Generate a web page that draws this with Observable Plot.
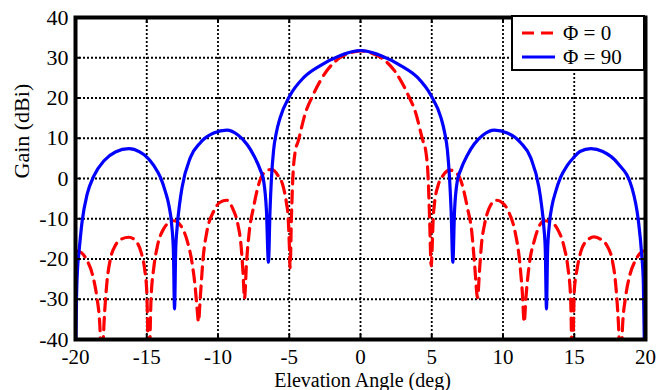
<!DOCTYPE html>
<html><head><meta charset="utf-8">
<script src="https://cdn.jsdelivr.net/npm/d3@7"></script>
<script src="https://cdn.jsdelivr.net/npm/@observablehq/plot@0.6"></script>
<style>
html,body{margin:0;padding:0;background:#fff;}
#wrap{position:relative;width:659px;height:390px;overflow:hidden;}
#legend{position:absolute;left:511px;top:15px;}
</style></head><body><div id="wrap"></div>
<script>
const xTicks = [-20, -15, -10, -5, 0, 5, 10, 15, 20];
const yTicks = [-40, -30, -20, -10, 0, 10, 20, 30, 40];
const seriesNames = ["\u03A6 = 0", "\u03A6 = 90"];
const seriesColors = ["#ff0000", "#0000ff"];

// Phi = 0 (red dashed)
const phi0Angle = [-20.0,-19.6,-19.2,-18.8,-18.5,-18.3,-18.15,-18.0,-17.8,-17.55,-17.2,-16.75,-16.25,-15.8,-15.4,-15.15,-15.0,-14.85,-14.7,-14.5,-14.27,-13.8,-13.45,-13.1,-12.6,-12.16,-11.81,-11.6,-11.45,-11.37,-11.25,-11.05,-10.78,-10.31,-9.85,-9.4,-8.95,-8.6,-8.4,-8.25,-8.14,-8.0,-7.8,-7.51,-7.04,-6.6,-6.22,-5.8,-5.44,-5.2,-5.07,-4.98,-4.94,-4.85,-4.75,-4.59,-4.36,-3.89,-3.31,-2.38,-1.45,-0.4,0,
  0.4,1.45,2.38,3.31,3.89,4.36,4.59,4.75,4.85,4.96,5.02,5.1,5.2,5.44,5.8,6.24,6.6,7.04,7.51,7.8,8.0,8.22,8.35,8.5,8.7,9.0,9.51,9.95,10.4,10.85,11.15,11.35,11.49,11.6,11.85,12.2,12.89,13.45,13.8,14.3,14.55,14.75,14.87,15.0,15.2,15.45,15.9,16.4,16.85,17.3,17.65,17.9,18.1,18.25,18.4,18.6,18.9,19.3,19.65,20.0];
const phi0Gain = [-17.9,-18.4,-20.3,-24.0,-29.5,-36,-48,-36,-26,-20.0,-16.6,-15.0,-14.6,-15.4,-18.3,-22.5,-28,-48,-30,-22,-17.1,-12.4,-11.0,-10.5,-11.8,-15.5,-21.2,-27,-33,-35.6,-30,-20,-13.2,-8.2,-5.9,-5.4,-7.6,-11.5,-16,-23,-29.8,-21,-13,-7.2,-0.3,1.9,2.3,0.8,-1.8,-6,-10,-18,-22.2,-10,0,6.5,9.4,16.0,20.9,26.7,30.0,31.5,31.7,
  31.5,30.0,26.8,21.0,16.1,9.6,6.6,0,-10,-21.7,-18,-10,-6,-1.8,0.8,2.1,1.7,-0.5,-7.4,-13,-21,-29.6,-23,-16,-11.5,-7.6,-5.4,-6.0,-8.3,-13.3,-20,-28,-35.7,-30,-21.2,-15.4,-10.5,-11.0,-12.4,-17.2,-22,-30,-48,-28,-22.5,-18.3,-15.4,-14.5,-15.1,-16.7,-20,-26,-36,-48,-36,-29.5,-24.0,-20.3,-18.5,-17.9];

// Phi = 90 (blue solid)
const phi90Angle = [-20.0,-19.93,-19.85,-19.77,-19.53,-19.18,-18.7,-18.0,-17.2,-16.25,-15.5,-14.96,-14.5,-14.03,-13.7,-13.45,-13.25,-13.13,-13.05,-12.97,-12.87,-12.7,-12.52,-11.94,-11.24,-10.3,-9.37,-8.6,-7.97,-7.5,-7.04,-6.8,-6.6,-6.46,-6.35,-6.25,-6.1,-5.9,-5.64,-4.97,-4.01,-2.85,-1.45,-0.28,0,
  0.3,1.45,2.85,4.0,4.97,5.64,5.9,6.1,6.25,6.36,6.48,6.6,6.8,7.04,7.5,7.97,8.6,9.39,10.3,11.24,11.94,12.52,12.7,12.87,12.97,13.05,13.13,13.25,13.45,13.7,14.03,14.5,14.96,15.4,16.17,17.0,18.1,19.04,19.5,19.73,19.85,19.95];
const phi90Gain = [-48,-30,-22,-18.8,-10.5,-3.9,0.7,4.4,6.6,7.4,6.6,5.2,3.2,0.2,-3.2,-6.6,-11.5,-18,-32.4,-18,-12.2,-6.5,-2.2,5.2,8.9,11.3,12.0,10.8,8.5,5.8,2.2,-0.5,-8,-20.8,-8,0,7,11.5,15.1,20.5,25.0,28.0,30.5,31.7,31.8,
  31.7,30.5,28.0,25.1,20.5,15.2,11.5,7,0,-8,-20.8,-8,-0.5,2.2,5.8,8.5,10.8,12.0,11.3,8.9,5.2,-2.2,-6.5,-12.2,-18,-32.4,-18,-11.5,-6.6,-3.2,0.2,3.2,5.2,6.7,7.4,6.7,3.6,-2.2,-10.5,-18.8,-26,-48];

const phi0 = phi0Angle.map((a, i) => ({angle: a, gain: phi0Gain[i]}));
const phi90 = phi90Angle.map((a, i) => ({angle: a, gain: phi90Gain[i]}));

const FONT = "'Liberation Serif', 'Times New Roman', serif";
const dash = "12,7";
const gridStyle = {stroke: "black", strokeOpacity: 1, strokeWidth: 1.8, strokeDasharray: "2,2"};

const chart = Plot.plot({
  width: 659, height: 390,
  marginLeft: 75, marginRight: 14, marginTop: 17, marginBottom: 51,
  x: {domain: [-20, 20]},
  y: {domain: [-40, 40]},
  style: {fontFamily: FONT, fontSize: "22px", color: "black", background: "white", overflow: "visible"},
  marks: [
    Plot.gridX(xTicks, gridStyle),
    Plot.gridY(yTicks, gridStyle),
    Plot.line(phi0, {x: "angle", y: "gain", stroke: seriesColors[0], strokeWidth: 3.2, strokeDasharray: dash, curve: "monotone-x", clip: true}),
    Plot.line(phi90, {x: "angle", y: "gain", stroke: seriesColors[1], strokeWidth: 3.2, curve: "monotone-x", clip: true}),
    Plot.axisX(xTicks, {anchor: "bottom", tickSize: -5, strokeWidth: 2, tickFormat: () => "", label: null}),
    Plot.axisX(xTicks, {anchor: "top", tickSize: -5, strokeWidth: 2, tickFormat: () => "", label: null}),
    Plot.axisY(yTicks, {anchor: "left", tickSize: -5, strokeWidth: 2, tickFormat: () => "", label: null}),
    Plot.axisY(yTicks, {anchor: "right", tickSize: -5, strokeWidth: 2, tickFormat: () => "", label: null}),
    Plot.frame({stroke: "black", strokeWidth: 4}),
    Plot.axisX(xTicks, {anchor: "bottom", tickSize: 0, tickPadding: 10, fontSize: 21, tickFormat: d => String(d), label: null}),
    Plot.axisY(yTicks, {anchor: "left", tickSize: 0, tickPadding: 7, fontSize: 22, tickFormat: d => String(d), label: null}),
    Plot.text(["Gain (dBi)"], {frameAnchor: "left", rotate: -90, dx: -54, fontSize: 22, lineAnchor: "middle", fill: "black"}),
    Plot.text(["Elevation Angle (deg)"], {frameAnchor: "bottom", dy: 41, dx: 2, fontSize: 20, lineAnchor: "middle", fill: "black"})
  ]
});
const wrap = document.getElementById("wrap");
wrap.appendChild(chart);

// legend
const leg = document.createElement("div");
leg.id = "legend";
leg.innerHTML = `<svg width="134" height="56" xmlns="http://www.w3.org/2000/svg" style="font-family:${FONT.replace(/'/g, '&quot;')}">
  <rect x="1" y="1" width="132" height="54" fill="white" stroke="black" stroke-width="2"/>
  <line x1="11" x2="44" y1="18" y2="18" stroke="${seriesColors[0]}" stroke-width="3.2" stroke-dasharray="${dash}"/>
  <line x1="11" x2="44" y1="42" y2="42" stroke="${seriesColors[1]}" stroke-width="3.2"/>
  <text x="52" y="25" font-size="21">${seriesNames[0]}</text>
  <text x="52" y="49" font-size="21">${seriesNames[1]}</text>
</svg>`;
wrap.appendChild(leg);
</script></body></html>
